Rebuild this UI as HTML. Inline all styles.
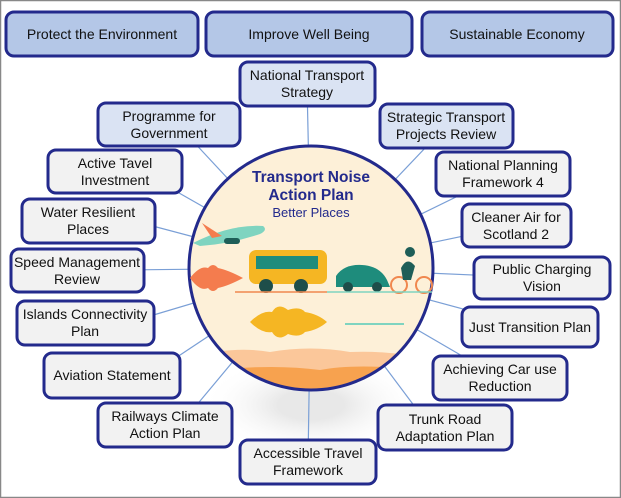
<!DOCTYPE html>
<html><head><meta charset="utf-8"><style>
html,body{margin:0;padding:0;background:#fff}
svg{display:block}
text{font-family:"Liberation Sans",sans-serif;font-size:14px;fill:#111;text-anchor:middle}
.b{stroke:#232a8c;stroke-width:3}
.d{fill:#b4c7e7}.l{fill:#dae3f3}.g{fill:#f2f2f2}
.c{stroke:#7a9fd6;stroke-width:1.2}
</style></head><body>
<svg width="621" height="498" viewBox="0 0 621 498">
<rect x="0.5" y="0.5" width="620" height="497" fill="#fff" stroke="#888" stroke-width="1.5"/>
<defs><radialGradient id="sh" cx="0.5" cy="0.5" r="0.5"><stop offset="0.3" stop-color="#e8e8e8"/><stop offset="1" stop-color="#fff" stop-opacity="0"/></radialGradient>
<clipPath id="cc"><circle cx="311" cy="268" r="121"/></clipPath></defs>
<ellipse cx="311" cy="405" rx="110" ry="50" fill="url(#sh)"/>
<g class="c">
<line x1="307" y1="84" x2="311" y2="268"/>
<line x1="190" y1="138" x2="311" y2="268"/>
<line x1="446" y1="126" x2="311" y2="268"/>
<line x1="165" y1="185" x2="311" y2="268"/>
<line x1="503" y1="174" x2="311" y2="268"/>
<line x1="130" y1="220" x2="311" y2="268"/>
<line x1="516" y1="225" x2="311" y2="268"/>
<line x1="120" y1="270" x2="311" y2="268"/>
<line x1="542" y1="278" x2="311" y2="268"/>
<line x1="130" y1="322" x2="311" y2="268"/>
<line x1="530" y1="327" x2="311" y2="268"/>
<line x1="150" y1="375" x2="311" y2="268"/>
<line x1="500" y1="378" x2="311" y2="268"/>
<line x1="180" y1="425" x2="311" y2="268"/>
<line x1="430" y1="427" x2="311" y2="268"/>
<line x1="308" y1="462" x2="311" y2="268"/>
</g>
<circle cx="311" cy="268" r="122" fill="#fdf0d8"/>
<g clip-path="url(#cc)">
<path d="M180 360 Q230 345 270 352 Q310 345 350 352 Q395 350 440 362 L440 400 L180 400Z" fill="#fbc79a"/>
<path d="M180 375 Q260 362 320 370 Q360 362 440 372 L440 400 L180 400Z" fill="#f7a24f"/>
</g>
<circle cx="311" cy="268" r="122" fill="none" stroke="#232a8c" stroke-width="3"/>
<text x="311" y="182" style="font-weight:bold;font-size:15.5px;fill:#232a8c">Transport Noise</text>
<text x="311" y="200" style="font-weight:bold;font-size:15.5px;fill:#232a8c">Action Plan</text>
<text x="311" y="217" style="font-size:13px;fill:#232a8c">Better Places</text>
<path d="M193 243 Q230 224 263 226 Q268 230 260 234 Q230 244 200 246Z" fill="#7fd4c0"/>
<path d="M202 223 L222 236 L212 238Z" fill="#f47c4e"/>
<rect x="224" y="238" width="16" height="6" rx="3" fill="#1e5e58"/>
<rect x="249" y="250" width="78" height="34" rx="7" fill="#f5b623"/>
<rect x="256" y="256" width="62" height="13" fill="#1e8c7c"/>
<circle cx="266" cy="286" r="7" fill="#1e4e4a"/><circle cx="301" cy="286" r="7" fill="#1e4e4a"/>
<path d="M336 287 L336 276 Q344 264 362 265 Q380 266 387 280 L390 287Z" fill="#1e8c7c"/>
<circle cx="348" cy="287" r="5" fill="#1e4e4a"/><circle cx="377" cy="287" r="5" fill="#1e4e4a"/>
<circle cx="399" cy="285" r="8" fill="none" stroke="#f0884f" stroke-width="2"/>
<circle cx="424" cy="285" r="8" fill="none" stroke="#f0884f" stroke-width="2"/>
<path d="M401 268 q6-12 14-2 l-4 14 l-8 0z" fill="#1e5e58"/><circle cx="410" cy="252" r="5" fill="#1e5e58"/>
<line x1="235" y1="292" x2="327" y2="292" stroke="#f0884f" stroke-width="1.5"/>
<line x1="327" y1="292" x2="432" y2="292" stroke="#7fd4c0" stroke-width="1.5"/>
<path d="M190 278 Q200 265 208 268 Q213 262 218 268 Q228 270 243 278 Q228 286 218 288 Q213 294 208 288 Q200 292 190 278Z" fill="#f47c4e"/>
<path d="M250 322 Q262 310 272 312 Q278 302 288 310 Q300 306 305 312 Q318 314 327 322 Q318 330 305 332 Q300 338 288 334 Q278 342 272 332 Q262 334 250 322Z" fill="#f5b623"/>
<line x1="345" y1="324" x2="404" y2="324" stroke="#7fd4c0" stroke-width="2"/>
<g class="b">
<rect x="6" y="12" width="192" height="44" rx="8" class="d"/>
<rect x="206" y="12" width="206" height="44" rx="8" class="d"/>
<rect x="422" y="12" width="191" height="44" rx="8" class="d"/>
<rect x="240" y="62" width="135" height="44" rx="8" class="l"/>
<rect x="98" y="103" width="142" height="43" rx="8" class="l"/>
<rect x="380" y="104" width="133" height="44" rx="8" class="l"/>
<rect x="48" y="150" width="134" height="43" rx="8" class="g"/>
<rect x="436" y="152" width="134" height="44" rx="8" class="g"/>
<rect x="22" y="199" width="133" height="44" rx="8" class="g"/>
<rect x="462" y="204" width="109" height="43" rx="8" class="g"/>
<rect x="11" y="249" width="133" height="43" rx="8" class="g"/>
<rect x="474" y="257" width="136" height="42" rx="8" class="g"/>
<rect x="17" y="301" width="137" height="44" rx="8" class="g"/>
<rect x="462" y="307" width="136" height="40" rx="8" class="g"/>
<rect x="44" y="353" width="136" height="45" rx="8" class="g"/>
<rect x="433" y="356" width="134" height="44" rx="8" class="g"/>
<rect x="98" y="403" width="134" height="44" rx="8" class="g"/>
<rect x="378" y="405" width="134" height="45" rx="8" class="g"/>
<rect x="240" y="440" width="136" height="44" rx="8" class="g"/>
</g>
<text x="102" y="39">Protect the Environment</text>
<text x="309" y="39">Improve Well Being</text>
<text x="517" y="39">Sustainable Economy</text>
<text x="307" y="80">National Transport</text><text x="307" y="97">Strategy</text>
<text x="169" y="121">Programme for</text><text x="169" y="138">Government</text>
<text x="446" y="122">Strategic Transport</text><text x="446" y="139">Projects Review</text>
<text x="115" y="168">Active Tavel</text><text x="115" y="185">Investment</text>
<text x="503" y="170">National Planning</text><text x="503" y="187">Framework 4</text>
<text x="88" y="217">Water Resilient</text><text x="88" y="234">Places</text>
<text x="516" y="222">Cleaner Air for</text><text x="516" y="239">Scotland 2</text>
<text x="77" y="267">Speed Management</text><text x="77" y="284">Review</text>
<text x="542" y="274">Public Charging</text><text x="542" y="291">Vision</text>
<text x="85" y="319">Islands Connectivity</text><text x="85" y="336">Plan</text>
<text x="530" y="332">Just Transition Plan</text>
<text x="112" y="380">Aviation Statement</text>
<text x="500" y="374">Achieving Car use</text><text x="500" y="391">Reduction</text>
<text x="165" y="421">Railways Climate</text><text x="165" y="438">Action Plan</text>
<text x="445" y="424">Trunk Road</text><text x="445" y="441">Adaptation Plan</text>
<text x="308" y="458">Accessible Travel</text><text x="308" y="475">Framework</text>
</svg>
</body></html>
